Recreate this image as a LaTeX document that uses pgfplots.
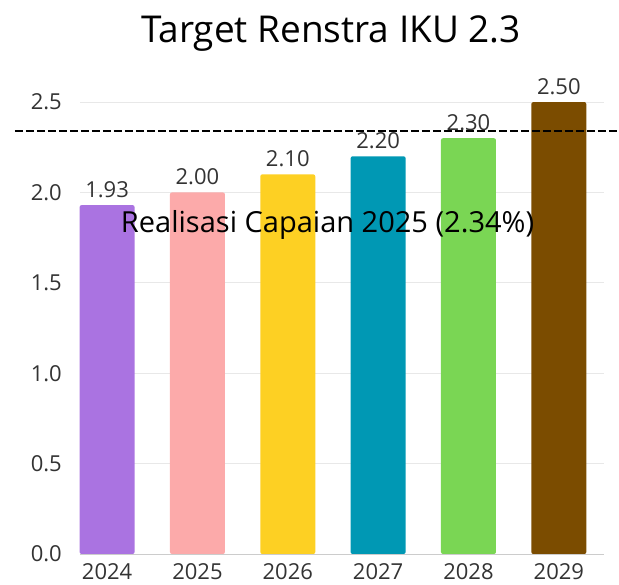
\documentclass[border=0pt]{standalone}
\usepackage{pgfplots}
\pgfplotsset{compat=1.18}
\usepackage{fontspec}
\setmainfont{Open Sans}
\definecolor{cA}{HTML}{AA73E1}
\definecolor{cB}{HTML}{FCAAAA}
\definecolor{cC}{HTML}{FDD023}
\definecolor{cD}{HTML}{0098B4}
\definecolor{cE}{HTML}{7AD654}
\definecolor{cF}{HTML}{7B4C00}
\definecolor{txt}{HTML}{333333}
\begin{document}
\begin{tikzpicture}
\begin{axis}[
  scale only axis, width=524pt, height=470pt,
  xmin=-0.3, xmax=5.5, ymin=0, ymax=2.6,
  axis line style={draw=none}, tick style={draw=none},
  ybar, bar width=55pt, bar shift=0pt,
  xtick={0,1,2,3,4,5}, xticklabels={2024,2025,2026,2027,2028,2029},
  ytick={0,0.5,1,1.5,2,2.5},
  yticklabels={0.0,0.5,1.0,1.5,2.0,2.5},
  ymajorgrids, grid style={color=black!9, line width=0.8pt},
  major tick length=0pt,
  tick label style={font=\fontsize{22}{24}\selectfont, text=txt},
  yticklabel style={anchor=east, inner sep=0pt, xshift=-18pt},
  xticklabel style={anchor=base, inner sep=0pt, yshift=-26pt},
  /pgf/number format/assume math mode=true,
  nodes near coords,
  nodes near coords style={font=\fontsize{22}{24}\selectfont, text=txt, anchor=base, inner sep=0pt, yshift=8pt},
  /pgf/number format/fixed, /pgf/number format/fixed zerofill, /pgf/number format/precision=2,
  clip=false,
]
\addplot[fill=cA, draw=none, rounded corners=2pt] coordinates {(0,1.93)};
\addplot[fill=cB, draw=none, rounded corners=2pt] coordinates {(1,2.00)};
\addplot[fill=cC, draw=none, rounded corners=2pt] coordinates {(2,2.10)};
\addplot[fill=cD, draw=none, rounded corners=2pt] coordinates {(3,2.20)};
\addplot[fill=cE, draw=none, rounded corners=2pt] coordinates {(4,2.30)};
\addplot[fill=cF, draw=none, rounded corners=2pt] coordinates {(5,2.50)};
\draw[black!20, line width=0.8pt] (axis cs:-0.3,0) -- (axis cs:5.5,0);
\addplot[sharp plot, nodes near coords={}, black, line width=1.9pt, dash pattern=on 8pt off 3pt] coordinates {(-1.02,2.34) (5.66,2.34)};
\node[font=\fontsize{29}{32}\selectfont, text=black, anchor=base, inner sep=0pt] at (axis cs:2.44,1.78) {Realisasi Capaian 2025 (2.34\%)};
\end{axis}
\node[font=\fontsize{37}{40}\selectfont, text=black, anchor=base, inner sep=0pt] at (251pt,511pt) {Target Renstra IKU 2.3};
\pgfresetboundingbox
\path[use as bounding box] (-80pt,-31pt) rectangle (539pt,554pt);
\end{tikzpicture}
\end{document}
